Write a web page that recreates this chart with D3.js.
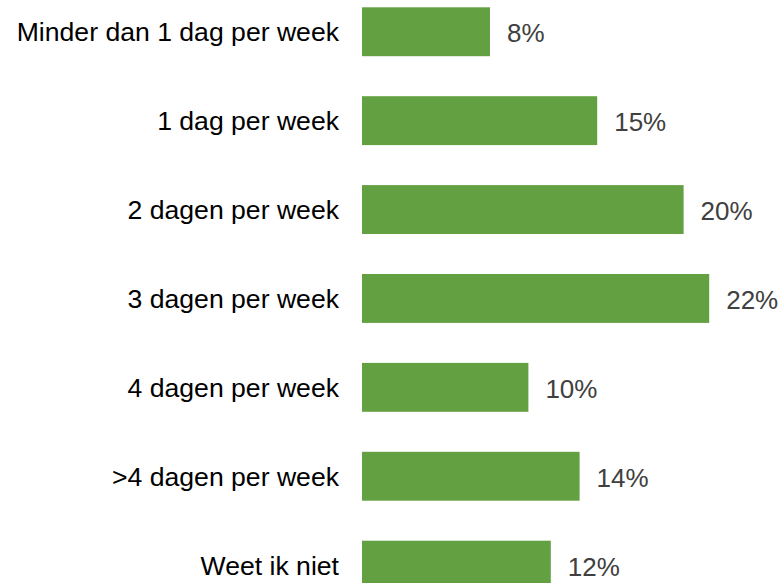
<!DOCTYPE html>
<html>
<head>
<meta charset="utf-8">
<script src="https://cdn.jsdelivr.net/npm/d3@7"></script>
<style>
  body { margin: 0; background: #fff; }
  svg { display: block; }
  .cat-label { font-family: "Liberation Sans", Arial, sans-serif; font-size: 26.6px; fill: #000; }
  .val-label { font-family: "Liberation Sans", Arial, sans-serif; font-size: 26px; fill: #404040; }
</style>
</head>
<body>
<svg id="chart" width="779" height="583"></svg>
<script>
// categories, top to bottom
var categories = [
  'Minder dan 1 dag per week',
  '1 dag per week',
  '2 dagen per week',
  '3 dagen per week',
  '4 dagen per week',
  '>4 dagen per week',
  'Weet ik niet'
];
// shares in percent (labels are shown rounded)
var values = [8.0, 14.7, 20.1, 21.7, 10.4, 13.6, 11.8];

var width = 779,
  height = 583,
  barLeft = 362,
  barColor = '#63a042';

var svg = d3.select('#chart');

var x = d3.scaleLinear()
  .domain([0, 25])
  .range([barLeft, barLeft + 400]);

var y = d3.scaleBand()
  .domain(categories)
  .range([-12.7, 609.6])
  .paddingInner(0.45)
  .paddingOuter(0.225);

var rows = svg.selectAll('g.row')
  .data(categories.map(function(c, i) { return { cat: c, val: values[i] }; }))
  .enter().append('g')
  .attr('class', 'row');

rows.append('rect')
  .attr('x', x(0))
  .attr('y', function(d) { return y(d.cat); })
  .attr('width', function(d) { return x(d.val) - x(0); })
  .attr('height', y.bandwidth())
  .attr('fill', barColor);

rows.append('text')
  .attr('class', 'cat-label')
  .attr('x', barLeft - 23)
  .attr('y', function(d) { return y(d.cat) + y.bandwidth() / 2; })
  .attr('dy', '0.36em')
  .attr('text-anchor', 'end')
  .text(function(d) { return d.cat; });

rows.append('text')
  .attr('class', 'val-label')
  .attr('x', function(d) { return x(d.val) + 17; })
  .attr('y', function(d) { return y(d.cat) + y.bandwidth() / 2; })
  .attr('dy', '0.41em')
  .text(function(d) { return d3.format('.0f')(d.val) + '%'; });
</script>
</body>
</html>
